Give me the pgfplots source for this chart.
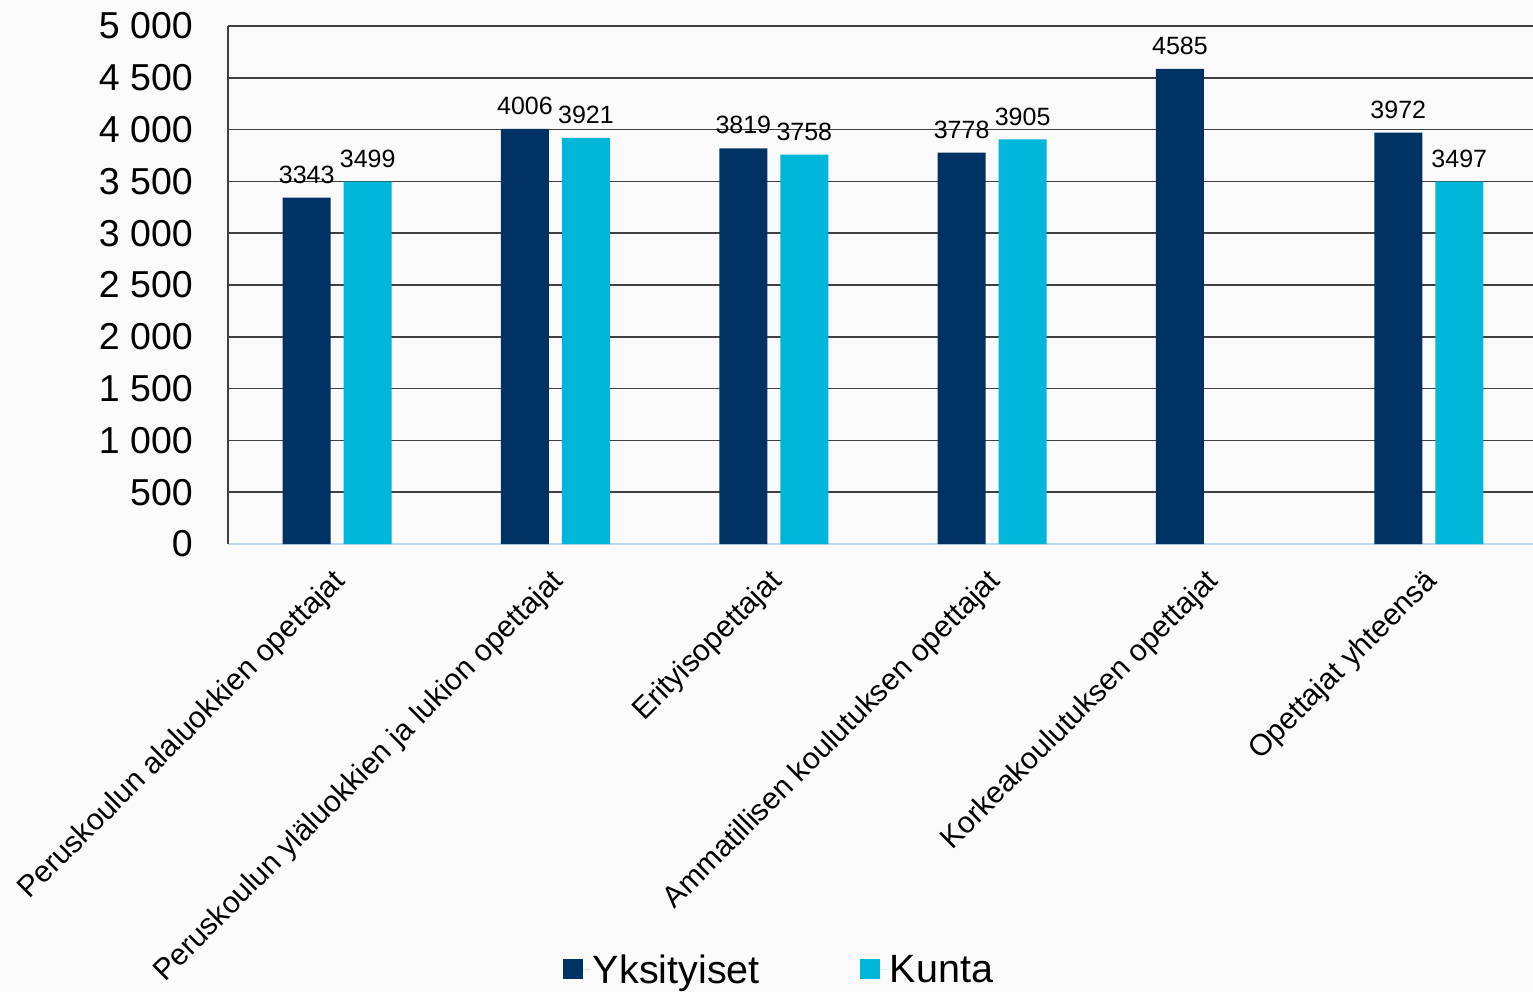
\documentclass[border=0pt]{standalone}
\usepackage{fontspec}
\setmainfont{Liberation Sans}
\usepackage{pgfplots}
\pgfplotsset{compat=1.18}
\definecolor{dark}{RGB}{0,50,100}
\definecolor{cy}{RGB}{0,183,218}
\definecolor{bg}{RGB}{250,250,250}
\definecolor{gridc}{RGB}{64,64,64}
\definecolor{basec}{RGB}{190,215,240}
\begin{document}
\begin{tikzpicture}
\fill[bg] (0,0) rectangle (1533pt,-992pt);
\begin{scope}
\clip (0,0) rectangle (1533pt,-992pt);
\begin{axis}[
  at={(228pt,-544pt)}, anchor=south west, scale only axis,
  width=1310pt, height=518pt,
  xmin=-0.5, xmax=5.5, ymin=0, ymax=5000,
  ybar, bar width=48pt,
  ytick={0,500,...,5000},
  yticklabels={0,500,1 000,1 500,2 000,2 500,3 000,3 500,4 000,4 500,5 000},
  xtick={0,1,2,3,4,5},
  xticklabels={Peruskoulun alaluokkien opettajat,Peruskoulun yläluokkien ja lukion opettajat,Erityisopettajat,Ammatillisen koulutuksen opettajat,Korkeakoulutuksen opettajat,Opettajat yhteensä},
  major tick length=0pt,
  ymajorgrids, grid style={gridc, line width=1.5pt},
  axis lines*=left,
  x axis line style={basec, line width=2pt},
  y axis line style={gridc, line width=1.5pt},
  yticklabel style={font=\fontsize{37.5}{44}\selectfont, inner sep=0pt, xshift=-35pt, text=black},
  xticklabel style={font=\fontsize{30}{36}\selectfont, inner sep=0pt, xshift=-6pt, yshift=-23pt, rotate=45, anchor=north east, text=black},
  nodes near coords={\pgfmathprintnumber[1000 sep={},assume math mode=true]{\pgfplotspointmeta}},
  nodes near coords style={font=\fontsize{25}{30}\selectfont, inner sep=0pt, yshift=14pt, text=black},
  legend image code/.code={\path (0pt,0pt) -- (28pt,0pt);\fill[#1] (0pt,-9.5pt) rectangle (20pt,10.5pt);},
  legend style={at={(0.4206,-0.822)}, anchor=center, draw=none, fill=none,
    legend columns=2, font=\fontsize{39.5}{46}\selectfont,
    /tikz/every even column/.append style={column sep=98pt}},
]
\addplot[fill=dark, draw=none, bar shift=-30.5pt] coordinates {(0,3343) (1,4006) (2,3819) (3,3778) (4,4585) (5,3972)};
\addplot[fill=cy, draw=none, bar shift=30.5pt] coordinates {(0,3499) (1,3921) (2,3758) (3,3905) (5,3497)};
\legend{Yksityiset,Kunta}
\end{axis}
\end{scope}
\pgfresetboundingbox
\path[use as bounding box] (0,0) rectangle (1533pt,-992pt);
\end{tikzpicture}
\end{document}
